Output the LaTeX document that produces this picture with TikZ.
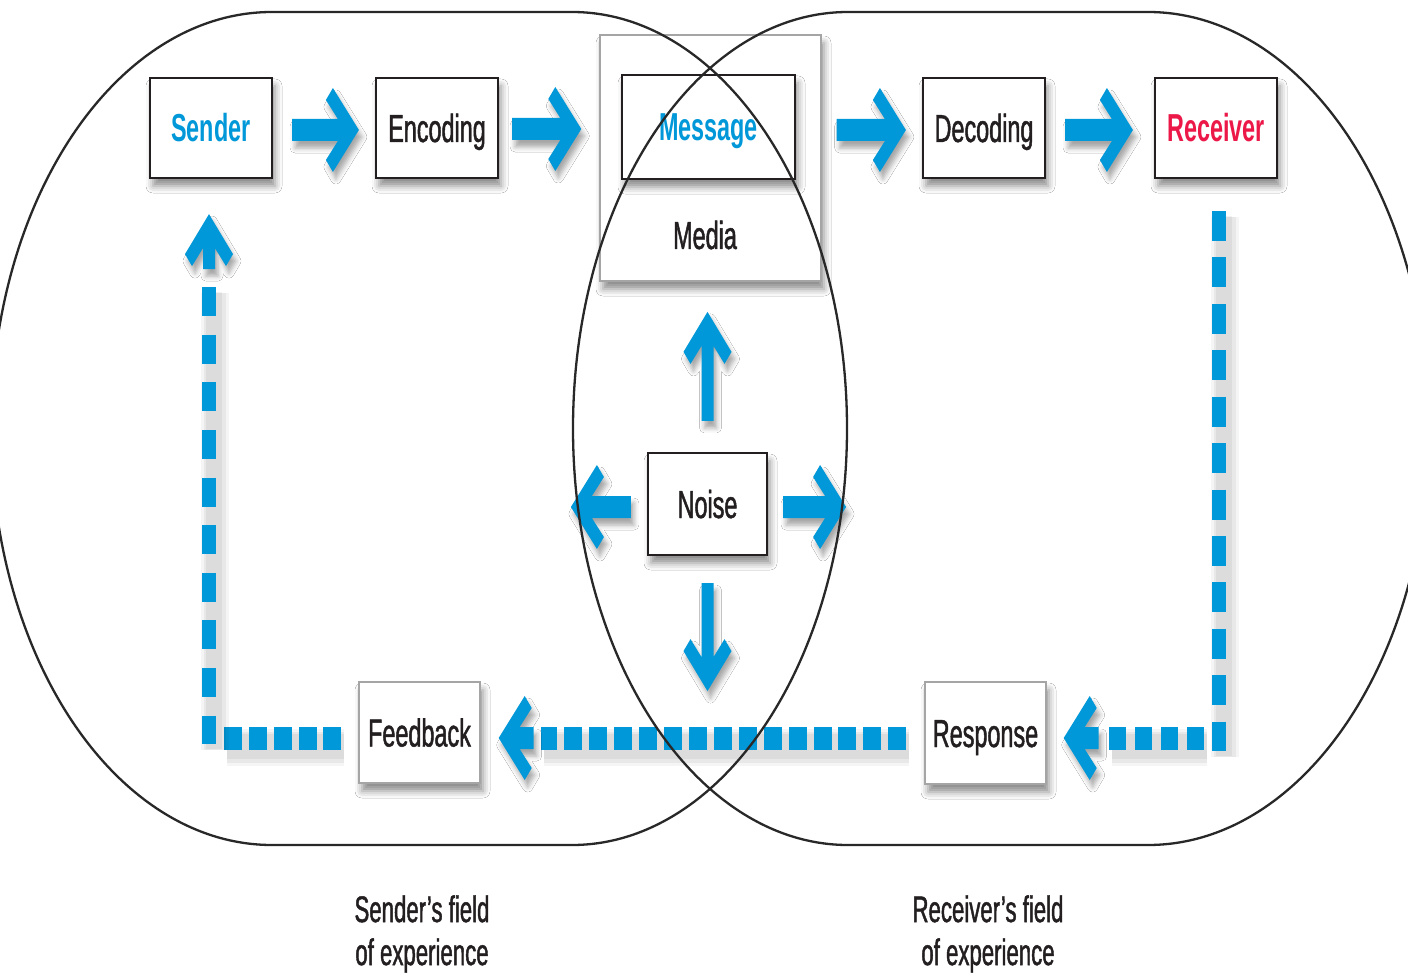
\documentclass[tikz,border=0pt]{standalone}
\usepackage{fontspec}
\setmainfont[FakeStretch=0.6,UprightFeatures={FakeBold=1.2}]{Liberation Sans}
\usetikzlibrary{calc,shadows,shadows.blur,fadings}

\definecolor{flowblue}{RGB}{0,152,216}
\definecolor{recvred}{RGB}{236,24,72}
\definecolor{ink}{RGB}{35,31,32}
\definecolor{framegray}{RGB}{165,165,165}
\definecolor{fieldline}{RGB}{40,40,40}

\newcommand\boxfont{\fontsize{39}{44}\selectfont}
\newcommand\fieldfont{\fontsize{37}{43}\selectfont}

% horizontal block arrow: tail point, tip point, direction (1 = right, -1 = left)
\newcommand\hblock[3]{%
  \fill[blockfill] let \p1=(#1), \p2=(#2), \n1={#3} in
    (\x1,{\y2+11pt}) -- ({\x2-(\n1)*21pt},{\y2+11pt})
    -- ({\x2-(\n1)*33pt},{\y2+30pt}) -- ({\x2-(\n1)*26pt},{\y2+42pt})
    -- (\x2,\y2)
    -- ({\x2-(\n1)*26pt},{\y2-42pt}) -- ({\x2-(\n1)*33pt},{\y2-30pt})
    -- ({\x2-(\n1)*21pt},{\y2-11pt}) -- (\x1,{\y2-11pt}) -- cycle;}

% vertical block arrow: tail point, tip point, direction (1 = up, -1 = down)
\newcommand\vblock[3]{%
  \fill[blockfill] let \p1=(#1), \p2=(#2), \n1={#3} in
    ({\x2-6pt},\y1) -- ({\x2-6pt},{\y2-(\n1)*34pt})
    -- ({\x2-17pt},{\y2-(\n1)*52pt}) -- ({\x2-24pt},{\y2-(\n1)*40pt})
    -- (\x2,\y2)
    -- ({\x2+24pt},{\y2-(\n1)*40pt}) -- ({\x2+17pt},{\y2-(\n1)*52pt})
    -- ({\x2+6pt},{\y2-(\n1)*34pt}) -- ({\x2+6pt},\y1) -- cycle;}

\begin{document}
\begin{tikzpicture}[x=1pt,y=-1pt,
  boxshadow/.style={blur shadow={shadow xshift=3pt,shadow yshift=-8pt,
      shadow blur radius=7pt,shadow opacity=45}},
  stagebox/.style={draw=ink,line width=2.2pt,fill=white,minimum width=122pt,
      minimum height=100pt,inner sep=0pt,text height=28pt,text depth=0pt,
      font=\boxfont,text=ink,boxshadow},
  keybox/.style={stagebox,font=\boxfont\bfseries},
  softbox/.style={stagebox,draw=framegray,line width=1.4pt},
  plainlabel/.style={font=\boxfont,text=ink,inner sep=0pt,text height=28pt,text depth=0pt},
  fieldlabel/.style={font=\fieldfont,text=ink,align=center,inner sep=0pt},
  blockfill/.style={fill=flowblue,blur shadow={shadow xshift=3pt,shadow yshift=-7pt,
      shadow blur radius=5pt,shadow opacity=35}},
  hdash/.style={draw=flowblue,line width=23pt,
      preaction={draw=black,draw opacity=0.04,line width=37pt,
        transform canvas={shift={(3pt,-9pt)}}},
      preaction={draw=black,draw opacity=0.05,line width=31pt,
        transform canvas={shift={(3pt,-9pt)}}},
      preaction={draw=black,draw opacity=0.05,line width=25pt,
        transform canvas={shift={(3pt,-8pt)}}}},
  vdash/.style={draw=flowblue,line width=14pt,
      preaction={draw=black,draw opacity=0.04,line width=28pt,
        transform canvas={shift={(6pt,-6pt)}}},
      preaction={draw=black,draw opacity=0.05,line width=22pt,
        transform canvas={shift={(6pt,-6pt)}}},
      preaction={draw=black,draw opacity=0.05,line width=16pt,
        transform canvas={shift={(5pt,-5pt)}}}},
  field/.style={draw=fieldline,line width=2.3pt}
]
\fill[white] (0,0) rectangle (1408,976);
\useasboundingbox (0,0) rectangle (1408,976);
\clip (0,0) rectangle (1408,976);

% stages of the message
\node[keybox,text=flowblue] (sender) at (211,128) {Sender};
\node[stagebox] (encoding) at (437,128) {Encoding};
\node[softbox,minimum width=221pt,minimum height=246pt] (media) at (710.5,158) {};
\node[keybox,minimum width=173pt,minimum height=104pt,text=flowblue] (message) at (708.5,127) {Message};
\node[plainlabel] (medialabel) at (705,235) {Media};
\node[stagebox] (decoding) at (984,128) {Decoding};
\node[keybox,text=recvred] (receiver) at (1216,128) {Receiver};
\node[stagebox,minimum width=119pt,minimum height=102pt] (noise) at (707.5,504) {Noise};
\node[softbox,minimum width=121pt,minimum height=101pt] (feedback) at (419.5,732.5) {Feedback};
\node[softbox,minimum width=121pt,minimum height=102pt] (response) at (985.5,733) {Response};

\node[fieldlabel] (senderfield) at (422,934) {Sender's field\\of experience};
\node[fieldlabel] (receiverfield) at (988,934) {Receiver's field\\of experience};

% forward flow
\coordinate (medialeft) at (media.west |- message.west);
\coordinate (mediaright) at (media.east |- message.east);
\hblock{[xshift=19pt,yshift=-2pt]sender.east}{[xshift=-16pt,yshift=-2pt]encoding.west}{1}
\hblock{[xshift=13pt,yshift=-2pt]encoding.east}{[xshift=-18pt,yshift=-2pt]medialeft}{1}
\hblock{[xshift=15pt,yshift=-2pt]mediaright}{[xshift=-16pt,yshift=-2pt]decoding.west}{1}
\hblock{[xshift=19pt,yshift=-2pt]decoding.east}{[xshift=-21pt,yshift=-2pt]receiver.west}{1}

% noise spreading out
\vblock{[yshift=31pt]noise.north}{[yshift=140pt]noise.north}{1}
\vblock{[yshift=-27pt]noise.south}{[yshift=-135pt]noise.south}{-1}
\hblock{[xshift=-16pt,yshift=-3pt]noise.west}{[xshift=-76pt,yshift=-3pt]noise.west}{-1}
\hblock{[xshift=15pt,yshift=-3pt]noise.east}{[xshift=78pt,yshift=-3pt]noise.east}{1}

% feedback loop
\draw[vdash,dash pattern=on 30pt off 16.4pt]
  ([xshift=3pt,yshift=-32pt]receiver.south) -- ([xshift=3pt,yshift=-572pt]receiver.south);
\draw[hdash,dash pattern=on 17pt off 9pt]
  ([xshift=157pt,yshift=-5pt]response.east) -- ([xshift=62pt,yshift=-5pt]response.east);
\hblock{[xshift=52pt,yshift=-5pt]response.east}{[xshift=17pt,yshift=-5pt]response.east}{-1}
\draw[hdash,dash pattern=on 18pt off 6.93pt]
  ([xshift=-18pt,yshift=-5pt]response.west) -- ([xshift=60pt,yshift=-5.5pt]feedback.east);
\hblock{[xshift=53pt,yshift=-5.5pt]feedback.east}{[xshift=18pt,yshift=-5.5pt]feedback.east}{-1}
\draw[hdash,dash pattern=on 18pt off 6.75pt]
  ([xshift=-17pt,yshift=-5.5pt]feedback.west) -- ([xshift=-134pt,yshift=-5.5pt]feedback.west);
\draw[vdash,dash pattern=on 29pt off 18.6pt]
  ([xshift=-2pt,yshift=-108pt]sender.south) -- ([xshift=-2pt,yshift=-565pt]sender.south);
\vblock{[xshift=-2pt,yshift=-90pt]sender.south}{[xshift=-2pt,yshift=-35pt]sender.south}{1}

% the two fields of experience
\draw[field] (272,12) -- (572,12)
  arc[start angle=-90,end angle=90,x radius=275,y radius=416.5]
  -- (272,845) arc[start angle=90,end angle=270,x radius=281,y radius=416.5] -- cycle;
\draw[field] (848,12) -- (1148,12)
  arc[start angle=-90,end angle=90,x radius=281,y radius=416.5]
  -- (848,845) arc[start angle=90,end angle=270,x radius=275,y radius=416.5] -- cycle;
\end{tikzpicture}
\end{document}
